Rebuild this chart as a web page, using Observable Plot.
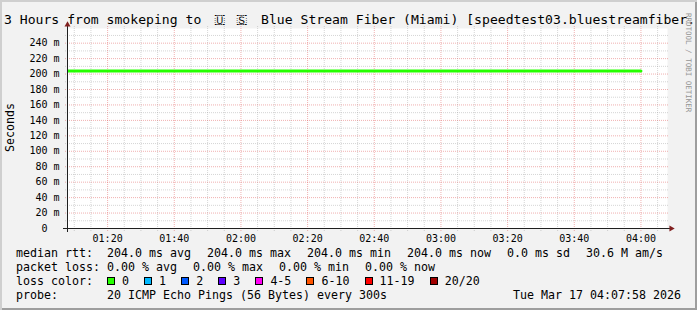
<!DOCTYPE html>
<html><head><meta charset="utf-8">
<script src="https://cdn.jsdelivr.net/npm/d3@7"></script>
<script src="https://cdn.jsdelivr.net/npm/@observablehq/plot@0.6"></script>
<style>
body{margin:0;background:#f2f2f2}
#chart{position:relative;width:697px;height:310px;overflow:hidden;background:#f2f2f2;font-family:"DejaVu Sans Mono",monospace;color:#000}
#chart svg{position:absolute;left:0;top:0}
.t{position:absolute;white-space:pre;line-height:1}
.title{font-size:13.1px}
.leg{font-size:11.63px}
.tofu{display:inline-block;width:22px;text-align:center}
.item{display:inline-block;margin-right:16px}
.sw{display:inline-block;width:6px;height:6px;border:1px solid #000;margin-right:7px;vertical-align:baseline}
.litem{display:inline-block;margin-right:15.1px}
#shade{position:absolute;left:0;top:0;width:697px;height:310px;box-shadow:inset 2px 2px 0 #cfcfcf, inset -2px -2px 0 #9e9e9e;pointer-events:none}
</style></head><body>
<div id="chart"></div>
<script>
// ---- data ----
const title = "3 Hours from smokeping to 🇺🇸 Blue Stream Fiber (Miami) [speedtest03.bluestreamfiber.";
const yLabel = "Seconds";
const watermark = "RRDTOOL / TOBI OETIKER";
const windowStart = "01:07:58";
const windowEnd = "04:07:58";
const sampleTimes = ["01:05","01:10","01:15","01:20","01:25","01:30","01:35","01:40","01:45","01:50","01:55",
  "02:00","02:05","02:10","02:15","02:20","02:25","02:30","02:35","02:40","02:45","02:50","02:55",
  "03:00","03:05","03:10","03:15","03:20","03:25","03:30","03:35","03:40","03:45","03:50","03:55","04:00"];
const medianRtt = [204,204,204,204,204,204,204,204,204,204,204,
  204,204,204,204,204,204,204,204,204,204,204,204,
  204,204,204,204,204,204,204,204,204,204,204,204,204]; // ms
const yTickValues = [0,20,40,60,80,100,120,140,160,180,200,220,240];
const xTickLabels = ["01:20","01:40","02:00","02:20","02:40","03:00","03:20","03:40","04:00"];
const rttLabel = "median rtt:";
const rttStats = ["204.0 ms avg","204.0 ms max","204.0 ms min","204.0 ms now","0.0 ms sd","30.6 M am/s"];
const lossLabel = "packet loss:";
const lossStats = ["0.00 % avg","0.00 % max","0.00 % min","0.00 % now"];
const colorLabel = "loss color:";
const lossLabels = ["0","1","2","3","4-5","6-10","11-19","20/20"];
const lossColors = ["#26ff00","#00b8ff","#0059ff","#5e00ff","#ff00f5","#ff5500","#ff0000","#a10000"];
const probeLabel = "probe:";
const probeText = "20 ICMP Echo Pings (56 Bytes) every 300s";
const stamp = "Tue Mar 17 04:07:58 2026";

// ---- helpers ----
const at = (hms) => { const [h,m,s=0] = hms.split(":").map(Number); return new Date(Date.UTC(2026,2,17,h,m,s)); };
const start = at(windowStart), end = at(windowEnd);
const data = sampleTimes.map((t,i) => ({time: at(t), rtt: medianRtt[i]}));
const majorX = xTickLabels.map(at);
const minorX = d3.utcMinute.every(5).range(start, end).filter(d => d.getUTCMinutes() % 20 !== 0);
const majorY = yTickValues.filter(v => v > 0);
const minorY = d3.range(10, 259, 20);
const gridMinor = {stroke:"rgb(143,143,143)", strokeOpacity:0.75, strokeWidth:0.5, strokeDasharray:"1,1"};
const gridMajor = {stroke:"rgb(222,79,79)", strokeOpacity:0.6, strokeWidth:0.75, strokeDasharray:"1,1"};
const axisColor = "#1f1f1f", arrowColor = "#801f1f";

const svg = Plot.plot({
  width: 697, height: 310,
  marginLeft: 67, marginRight: 30, marginTop: 28, marginBottom: 82,
  style: {background: "transparent", fontFamily: "DejaVu Sans Mono", fontSize: "10px", color: "#000"},
  x: {type: "utc", domain: [start, end], label: null},
  y: {domain: [0, 259], label: null},
  marks: [
    Plot.frame({fill: "#ffffff", stroke: "none"}),
    Plot.gridY(minorY, {...gridMinor, insetLeft: -2, insetRight: -2}),
    Plot.gridX(minorX, {...gridMinor, insetTop: -2, insetBottom: -3}),
    Plot.gridY(majorY, {...gridMajor, insetLeft: -2, insetRight: -2}),
    Plot.gridX(majorX, {...gridMajor, insetTop: -2, insetBottom: -3}),
    Plot.lineY(data, {x: "time", y: "rtt", stroke: "#26ff00", strokeWidth: 3, clip: true}),
    Plot.ruleY([0], {stroke: axisColor, insetLeft: -4, insetRight: -4}),
    Plot.ruleX([start], {stroke: axisColor, insetTop: -4, insetBottom: -4}),
    Plot.dot([0], {frameAnchor: "bottom-right", symbol: "triangle", r: 2.23, rotate: 90, dx: 3.7, fill: arrowColor, stroke: "none"}),
    Plot.dot([0], {frameAnchor: "top-left", symbol: "triangle", r: 2.23, dy: -3.7, fill: arrowColor, stroke: "none"}),
    Plot.axisY(yTickValues, {tickSize: 0, tickPadding: 8, label: null, tickFormat: v => v === 0 ? "0\u00a0\u00a0" : `${v} m`}),
    Plot.axisX(majorX, {tickSize: 0, tickPadding: 6, label: null, tickFormat: d3.utcFormat("%H:%M")})
  ]
});

const chart = document.getElementById("chart");
chart.append(svg);

function addText(cls, left, top, content) {
  const el = document.createElement("div");
  el.className = "t " + cls;
  el.style.left = left + "px"; el.style.top = top + "px";
  if (typeof content === "string") el.textContent = content; else el.append(...content);
  chart.append(el);
  return el;
}
function span(cls, text) { const s = document.createElement("span"); s.className = cls; if (text != null) s.textContent = text; return s; }

// title
const titleParts = Array.from(title).map(ch => /\p{Regional_Indicator}/u.test(ch) ? span("tofu", ch) : document.createTextNode(ch));
addText("title", 4, 24 - 0.846 * 13.1, titleParts);

// y label
const yl = addText("leg", 4.5, 152, yLabel);
yl.style.transformOrigin = "0 0"; yl.style.transform = "rotate(-90deg)";

// watermark
const wm = addText("", 692, 13, watermark);
wm.style.fontSize = "7.5px"; wm.style.color = "#959595";
wm.style.transformOrigin = "0 0"; wm.style.transform = "rotate(90deg)";

// legend
const lh = 0.846 * 11.63;
const row = (label, items, baseline) => {
  const parts = [span("", label.padEnd(13, " ")), ...items.map(t => span("item", t))];
  return addText("leg", 16, baseline - lh, parts);
};
row(rttLabel, rttStats, 258);
row(lossLabel, lossStats, 272);
const colorParts = [span("", colorLabel.padEnd(13, " ")), ...lossLabels.map((l, i) => {
  const it = span("litem");
  const sw = span("sw"); sw.style.background = lossColors[i];
  it.append(sw, l);
  return it;
})];
addText("leg", 16, 286 - lh, colorParts);
row(probeLabel, [probeText], 300);
const st = addText("leg", 0, 300 - lh, stamp);
st.style.left = ""; st.style.right = "16px";

const shade = document.createElement("div"); shade.id = "shade"; chart.append(shade);
</script>
</body></html>
